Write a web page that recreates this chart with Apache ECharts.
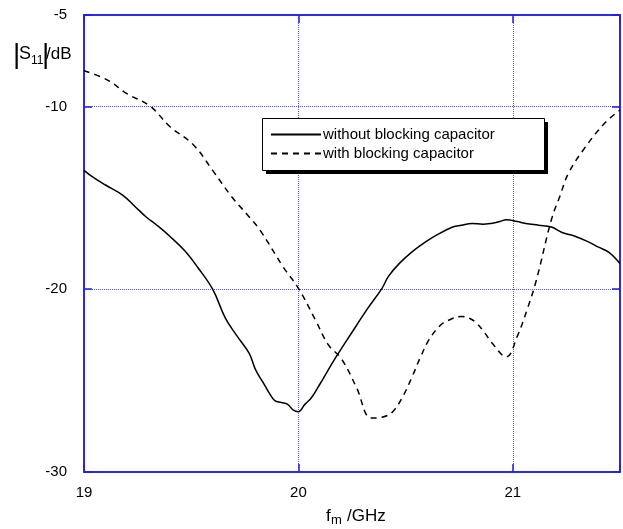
<!DOCTYPE html>
<html>
<head>
<meta charset="utf-8">
<script src="https://cdn.jsdelivr.net/npm/echarts@6/dist/echarts.min.js"></script>
<style>
html,body{margin:0;padding:0;background:#fff;}
#c{width:623px;height:529px;}
</style>
</head>
<body>
<div id="c"></div>
<script>
var seriesNames = ['without blocking capacitor', 'with blocking capacitor'];

var solidX = [19.0, 19.04, 19.1, 19.18, 19.24, 19.29, 19.34, 19.40, 19.47, 19.53, 19.60, 19.66, 19.71, 19.77, 19.80, 19.835, 19.865, 19.89, 19.92, 19.95, 19.975, 20.0, 20.03, 20.06, 20.10, 20.16, 20.22, 20.27, 20.32, 20.39, 20.42, 20.47, 20.53, 20.595, 20.65, 20.72, 20.76, 20.81, 20.86, 20.90, 20.94, 20.97, 21.02, 21.06, 21.12, 21.18, 21.23, 21.29, 21.35, 21.40, 21.45, 21.5];
var solidY = [-13.5, -13.86, -14.3, -14.85, -15.5, -16.05, -16.5, -17.1, -17.9, -18.8, -20.0, -21.6, -22.5, -23.5, -24.4, -25.1, -25.7, -26.1, -26.2, -26.3, -26.6, -26.7, -26.3, -25.95, -25.2, -24.0, -22.9, -22.0, -21.1, -19.95, -19.3, -18.6, -17.96, -17.4, -17.0, -16.6, -16.5, -16.4, -16.45, -16.4, -16.3, -16.2, -16.3, -16.4, -16.5, -16.6, -16.9, -17.1, -17.4, -17.7, -18.0, -18.6];

var dashX = [19.0, 19.11, 19.2, 19.31, 19.40, 19.51, 19.60, 19.69, 19.76, 19.82, 19.93, 20.0, 20.08, 20.14, 20.2, 20.27, 20.34, 20.39, 20.44, 20.49, 20.53, 20.57, 20.61, 20.66, 20.70, 20.76, 20.80, 20.83, 20.87, 20.90, 20.97, 21.02, 21.07, 21.11, 21.18, 21.22, 21.26, 21.34, 21.43, 21.5];
var dashY = [-8.05, -8.56, -9.3, -10.0, -11.1, -12.1, -13.5, -14.96, -15.9, -16.75, -18.8, -19.95, -21.7, -23.05, -23.8, -25.35, -27.05, -27.0, -26.7, -25.8, -24.8, -23.7, -22.75, -22.0, -21.7, -21.5, -21.6, -21.85, -22.4, -22.9, -23.7, -22.6, -21.0, -19.5, -16.2, -14.9, -13.65, -12.2, -10.9, -10.2];

var xTickLabels = ['19', '20', '21'];
var yTickLabels = ['-30', '-20', '-10', '-5'];

function zip(a, b) { return a.map(function (v, i) { return [v, b[i]]; }); }

var blue = '#1e1ee6';
var gridBlue = '#5a5af0';
var font = 'Liberation Sans, Arial, Helvetica, sans-serif';

var chart = echarts.init(document.getElementById('c'), null, {renderer: 'canvas'});
chart.setOption({
  animation: false,
  backgroundColor: '#fff',
  grid: {left: 84, top: 15, right: 1, bottom: 57, show: true, borderColor: blue, borderWidth: 1.5, backgroundColor: 'transparent'},
  legend: {
    orient: 'vertical', left: 262, top: 118,
    itemWidth: 50, itemHeight: 14, itemGap: 4,
    padding: [9, 48, 11, 8],
    backgroundColor: 'transparent', borderWidth: 0,
    itemStyle: {opacity: 0},
    textStyle: {fontFamily: font, fontSize: 15, color: '#000', padding: [0, 0, 0, -3]},
    data: seriesNames
  },
  xAxis: [{
    type: 'value', min: 19, max: 21.5, interval: 1,
    axisLine: {show: true, lineStyle: {color: blue, width: 1.5}},
    axisTick: {show: true, inside: true, length: 8, lineStyle: {color: blue, width: 1.5}},
    axisLabel: {margin: 13, fontFamily: font, fontSize: 15, color: '#000',
      formatter: function (v) { var s = String(v); return xTickLabels.indexOf(s) >= 0 ? s : ''; }},
    splitLine: {show: true, lineStyle: {color: gridBlue, width: 1, type: [1, 1]}}
  }, {
    type: 'value', position: 'top', min: 19, max: 21.5, interval: 1,
    axisLine: {show: true, lineStyle: {color: blue, width: 1.5}},
    axisTick: {show: true, inside: true, length: 8, lineStyle: {color: blue, width: 1.5}},
    axisLabel: {show: false}, splitLine: {show: false}
  }],
  yAxis: [{
    type: 'value', min: -30, max: -5, interval: 10,
    axisLine: {show: true, lineStyle: {color: blue, width: 1.5}},
    axisTick: {show: true, inside: true, length: 8, lineStyle: {color: blue, width: 1.5}},
    axisLabel: {margin: 17, fontFamily: font, fontSize: 15, color: '#000',
      formatter: function (v) { var s = String(v); return yTickLabels.indexOf(s) >= 0 ? s : ''; }},
    splitLine: {show: true, lineStyle: {color: gridBlue, width: 1, type: [1, 1]}}
  }, {
    type: 'value', position: 'right', min: -30, max: -5, interval: 10,
    axisLine: {show: true, lineStyle: {color: blue, width: 1.5}},
    axisTick: {show: true, inside: true, length: 8, lineStyle: {color: blue, width: 1.5}},
    axisLabel: {show: false}, splitLine: {show: false}
  }],
  series: [{
    name: seriesNames[0], type: 'line', data: zip(solidX, solidY),
    symbol: 'none', smooth: 0.4, color: '#000',
    lineStyle: {color: '#000', width: 1.5, type: 'solid'}
  }, {
    name: seriesNames[1], type: 'line', data: zip(dashX, dashY),
    symbol: 'none', smooth: 0.4, color: '#000',
    lineStyle: {color: '#000', width: 1.5, type: [6, 5]}
  }],
  graphic: [
    {type: 'rect', z: 3, shape: {x: 266, y: 122, width: 282, height: 52}, style: {fill: '#000'}},
    {type: 'rect', z: 3, shape: {x: 262.5, y: 118.5, width: 282, height: 52}, style: {fill: '#fff', stroke: '#000', lineWidth: 1}},
    {type: 'text', left: 13, top: 41, style: {text: '|', font: '28px ' + font, fill: '#000'}},
    {type: 'text', left: 19, top: 45, style: {text: 'S', font: '18px ' + font, fill: '#000'}},
    {type: 'text', left: 31, top: 55, style: {text: '11', font: '12px ' + font, fill: '#000'}},
    {type: 'text', left: 42, top: 41, style: {text: '|', font: '28px ' + font, fill: '#000'}},
    {type: 'text', left: 46, top: 46, style: {text: '/dB', font: '17px ' + font, fill: '#000'}},
    {type: 'text', left: 326, top: 508, style: {text: 'f', font: '17px ' + font, fill: '#000'}},
    {type: 'text', left: 331, top: 514, style: {text: 'm', font: '13px ' + font, fill: '#000'}},
    {type: 'text', left: 347, top: 508, style: {text: '/GHz', font: '17px ' + font, fill: '#000'}}
  ]
});
</script>
</body>
</html>
